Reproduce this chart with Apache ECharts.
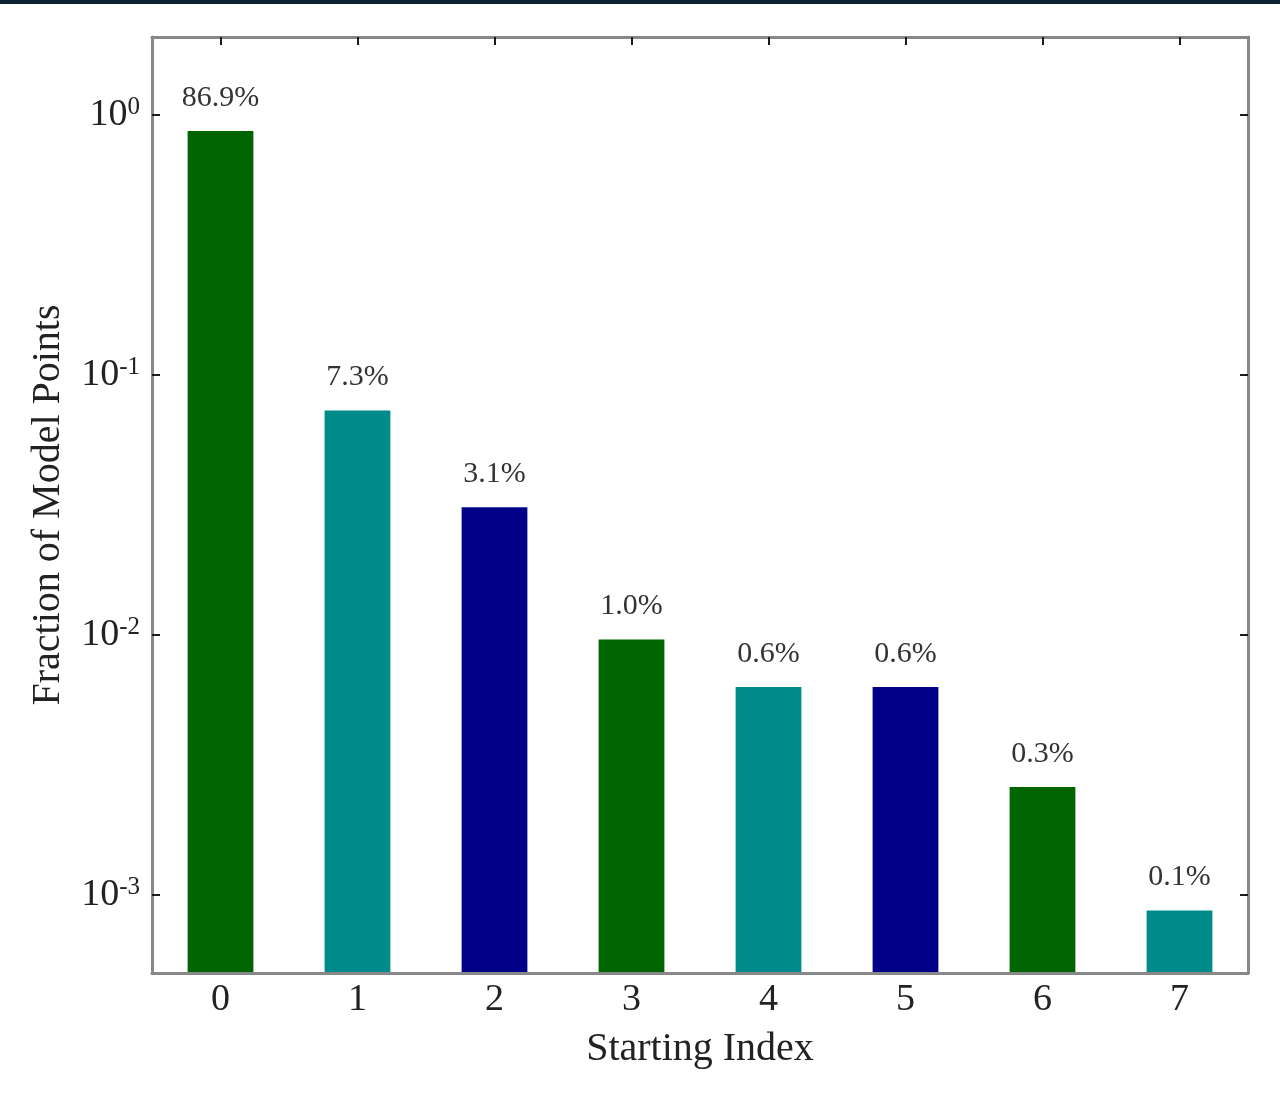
<!DOCTYPE html>
<html>
<head>
<meta charset="utf-8">
<title>Starting Index Distribution</title>
<script src="https://cdn.jsdelivr.net/npm/echarts@6/dist/echarts.min.js"></script>
<style>
  html, body { margin: 0; padding: 0; background: #ffffff; }
  #chart { width: 1280px; height: 1103px; }
</style>
</head>
<body>
<div id="chart"></div>
<script>
// Starting index of each model point
const categories = ['0', '1', '2', '3', '4', '5', '6', '7'];
// Fraction of model points per starting index
const fractions = [0.869, 0.073, 0.031, 0.0096, 0.0063, 0.0063, 0.0026, 0.00087];
// Bar colours cycle green / teal / navy
const palette = ['#006400', '#008B8B', '#000088'];

const FONT = '"Liberation Serif", "Times New Roman", serif';
const AXIS_GRAY = '#888888';
const TICK_COLOR = '#1a1a1a';
const Y_MIN = 5e-4;
const Y_MAX = 2;

const chart = echarts.init(document.getElementById('chart'), null, { renderer: 'canvas' });

function decadeLabel(v) {
  const lg = Math.log10(v);
  const e = Math.round(lg);
  if (Math.abs(lg - e) > 1e-6) return '';
  return '{b|10}{s|' + e + '}';
}

const logAxisBase = {
  type: 'log',
  logBase: 10,
  min: Y_MIN,
  max: Y_MAX,
  axisLine: { show: true, lineStyle: { color: AXIS_GRAY, width: 3 } },
  axisTick: { show: true, inside: true, length: 8, lineStyle: { color: TICK_COLOR, width: 2 } },
  minorTick: { show: false },
  splitLine: { show: false },
  z: 0
};

// Bars rise from the bottom of the log axis up to each fraction
function renderBar(params, api) {
  const idx = api.value(0);
  const val = api.value(1);
  const top = api.coord([idx, val]);
  const base = api.coord([idx, Y_MIN]);
  const bandW = api.size([1, 0])[0];
  const w = bandW * 0.48;
  return {
    type: 'rect',
    shape: { x: top[0] - w / 2, y: top[1], width: w, height: base[1] - top[1] },
    style: { fill: palette[params.dataIndex % palette.length] },
    textContent: {
      style: {
        text: (val * 100).toFixed(1) + '%',
        font: '30px ' + FONT,
        fill: '#333333'
      }
    },
    textConfig: { position: 'top', distance: 18 }
  };
}

const option = {
  backgroundColor: '#ffffff',
  animation: false,
  textStyle: { fontFamily: FONT },
  grid: { left: 152, right: 32, top: 37, bottom: 130, containLabel: false },
  graphic: [
    { type: 'rect', left: 0, top: 0, shape: { width: 1280, height: 4 }, style: { fill: '#0b2233' }, z: 10 }
  ],
  xAxis: [
    {
      type: 'category',
      data: categories,
      position: 'bottom',
      name: 'Starting Index',
      nameLocation: 'middle',
      nameGap: 56,
      nameTextStyle: { fontFamily: FONT, fontSize: 40, color: '#222222' },
      axisLine: { show: true, lineStyle: { color: AXIS_GRAY, width: 3 } },
      axisTick: { show: false },
      axisLabel: { fontFamily: FONT, fontSize: 38, color: '#222222', margin: 8 },
      splitLine: { show: false },
      z: 2
    },
    {
      type: 'category',
      data: categories,
      position: 'top',
      axisLine: { show: true, lineStyle: { color: AXIS_GRAY, width: 3 } },
      axisTick: { show: true, inside: true, alignWithLabel: true, length: 8, lineStyle: { color: TICK_COLOR, width: 2 } },
      axisLabel: { show: false },
      splitLine: { show: false },
      z: 2
    }
  ],
  yAxis: [
    Object.assign({}, logAxisBase, {
      position: 'left',
      name: 'Fraction of Model Points',
      nameLocation: 'middle',
      nameGap: 84,
      nameRotate: 90,
      nameTextStyle: { fontFamily: FONT, fontSize: 40, color: '#222222' },
      axisLabel: {
        show: true,
        margin: 12,
        formatter: decadeLabel,
        rich: {
          b: { fontFamily: FONT, fontSize: 38, lineHeight: 40, color: '#222222' },
          s: { fontFamily: FONT, fontSize: 25, lineHeight: 25, color: '#222222', verticalAlign: 'top' }
        }
      }
    }),
    Object.assign({}, logAxisBase, {
      position: 'right',
      axisLabel: { show: false }
    })
  ],
  series: [
    {
      type: 'custom',
      xAxisIndex: 0,
      yAxisIndex: 0,
      clip: true,
      renderItem: renderBar,
      encode: { x: 0, y: 1 },
      data: fractions.map((v, i) => [i, v])
    }
  ]
};

chart.setOption(option);
</script>
</body>
</html>
